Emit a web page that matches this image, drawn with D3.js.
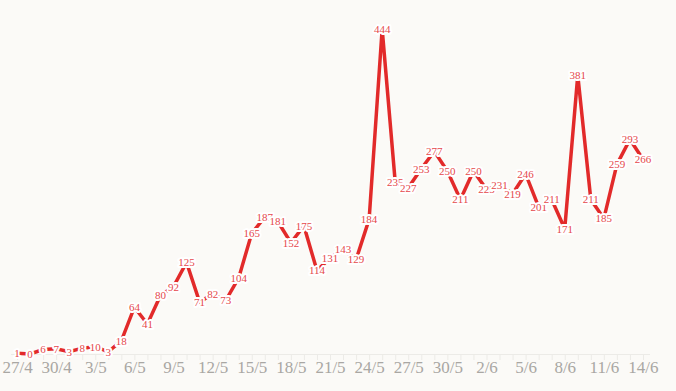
<!DOCTYPE html>
<html>
<head>
<meta charset="utf-8">
<script src="https://cdn.jsdelivr.net/npm/d3@7"></script>
<style>
  body { margin: 0; background: #fbfaf7; }
  svg { display: block; }
  .tick text { font-family: "Liberation Serif", serif; }
</style>
</head>
<body>
<div id="chart"></div>
<script>
// daily counts, 27/4 .. 14/6
var startDate = "2020-04-27";
var values = [1, 0, 6, 7, 3, 8, 10, 3, 18, 64, 41, 80, 92, 125, 71, 82, 73, 104,
  165, 187, 181, 152, 175, 114, 131, 143, 129, 184, 444, 235, 227, 253, 277,
  250, 211, 250, 225, 231, 219, 246, 201, 211, 171, 381, 211, 185, 259, 293, 266];
var tickLabels = ["27/4", "30/4", "3/5", "6/5", "9/5", "12/5", "15/5", "18/5", "21/5",
  "24/5", "27/5", "30/5", "2/6", "5/6", "8/6", "11/6", "14/6"];

var width = 676, height = 391;
var day = 864e5;
var t0 = new Date(startDate + "T00:00:00Z");
var data = values.map(function(v, i) {
  return { date: new Date(t0.getTime() + i * day), value: v };
});

var x = d3.scaleUtc()
  .domain([t0.getTime() - day / 2, data[data.length - 1].date.getTime() + day / 2])
  .range([10.5, 649.5]);
var y = d3.scaleLinear().domain([0, 444]).range([354, 29]);

var svg = d3.select("#chart").append("svg")
  .attr("width", width)
  .attr("height", height);

// axis with a small tick every day, labels every third day
var days = data.map(function(d) { return d.date; });
var xAxis = d3.axisBottom(x)
  .tickValues(days)
  .tickSize(6)
  .tickSizeOuter(0)
  .tickFormat(function(d, i) { return i % 3 === 0 ? tickLabels[i / 3] : ""; });

var gx = svg.append("g")
  .attr("transform", "translate(0,354)")
  .call(xAxis);
gx.select(".domain").attr("stroke", "#ecebe7");
gx.selectAll(".tick line").attr("stroke", "#ecebe7");
gx.selectAll(".tick text")
  .attr("fill", "#a9a7a3")
  .attr("font-size", 17)
  .attr("dy", "0.95em")
  .attr("y", 3);

var line = d3.line()
  .x(function(d) { return x(d.date); })
  .y(function(d) { return y(d.value); });

svg.append("path")
  .datum(data)
  .attr("fill", "none")
  .attr("stroke", "#e22a2a")
  .attr("stroke-width", 3.5)
  .attr("stroke-linejoin", "miter")
  .attr("d", line);

svg.append("g").selectAll("text")
  .data(data)
  .enter().append("text")
  .attr("x", function(d) { return x(d.date); })
  .attr("y", function(d) { return y(d.value); })
  .attr("dy", "0.35em")
  .attr("text-anchor", "middle")
  .attr("font-family", "Liberation Serif, serif")
  .attr("font-size", 11)
  .attr("fill", "#e5484b")
  .attr("stroke", "#ffffff")
  .attr("stroke-width", 4)
  .attr("stroke-linejoin", "round")
  .attr("paint-order", "stroke")
  .text(function(d) { return d.value; });
</script>
</body>
</html>
